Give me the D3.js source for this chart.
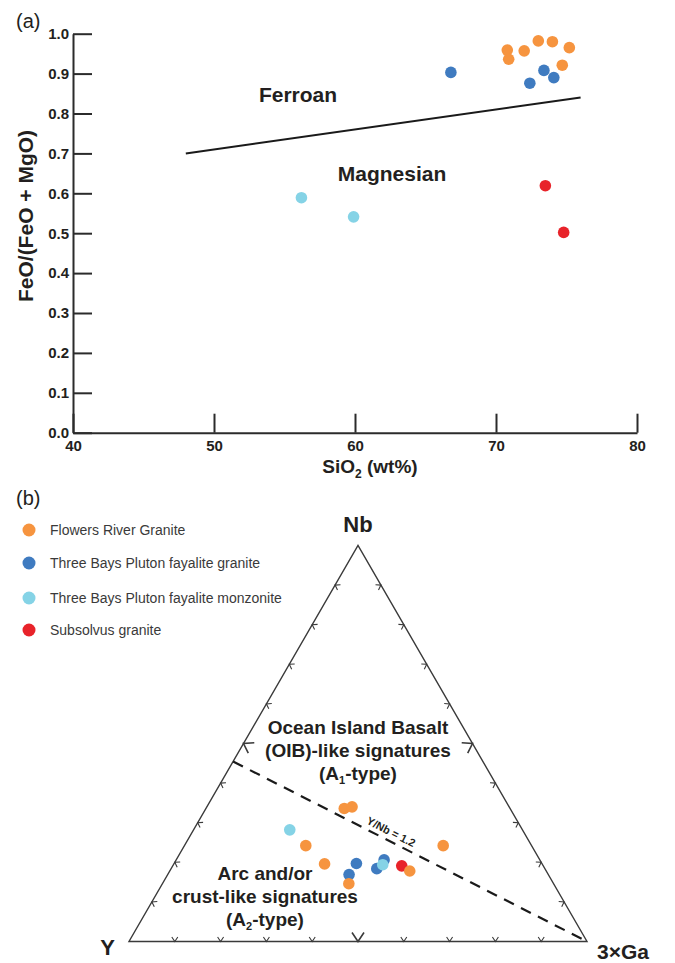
<!DOCTYPE html>
<html>
<head>
<meta charset="utf-8">
<script src="https://cdn.jsdelivr.net/npm/d3@7.9.0/dist/d3.min.js"></script>
<style>
  html, body { margin: 0; padding: 0; background: #fff; }
  svg text { font-family: "Liberation Sans", Arial, Helvetica, sans-serif; fill: #231f20; }
</style>
</head>
<body>
<div id="viz"></div>
<script>
// Series names and colours (shared by both panels)
const seriesNames = [
  "Flowers River Granite",
  "Three Bays Pluton fayalite granite",
  "Three Bays Pluton fayalite monzonite",
  "Subsolvus granite"
];
const seriesColors = ["#f6943f", "#3f7bc0", "#85d3e6", "#e8232a"];

// Panel (a): SiO2 (wt%) vs FeO/(FeO+MgO)
const flowersSiO2 = [70.8, 70.9, 72.0, 73.0, 74.0, 75.2, 74.7];
const flowersFe   = [0.959, 0.936, 0.957, 0.982, 0.980, 0.965, 0.921];
const graniteSiO2 = [66.8, 72.4, 73.4, 74.1];
const graniteFe   = [0.903, 0.876, 0.908, 0.890];
const monzSiO2    = [56.2, 59.9];
const monzFe      = [0.589, 0.541];
const subsSiO2    = [73.5, 74.8];
const subsFe      = [0.619, 0.502];

const xTicks = [40, 50, 60, 70, 80];
const yTicks = [0.0, 0.1, 0.2, 0.3, 0.4, 0.5, 0.6, 0.7, 0.8, 0.9, 1.0];
// Ferroan / magnesian boundary
const boundarySiO2 = [48, 76];
const boundaryFe   = [0.70, 0.84];

// Panel (b): ternary Nb - Y - 3xGa (fractions, Y = 1 - Nb - Ga)
const flowersNb = [0.336, 0.340, 0.242, 0.196, 0.146, 0.178, 0.242];
const flowersGa = [0.302, 0.317, 0.265, 0.329, 0.407, 0.524, 0.565];
const graniteNb = [0.197, 0.169, 0.206, 0.184];
const graniteGa = [0.398, 0.396, 0.454, 0.449];
const monzNb    = [0.282, 0.194];
const monzGa    = [0.210, 0.457];
const subsNb    = [0.191];
const subsGa    = [0.500];
const edgeTicks = [0.1, 0.2, 0.3, 0.4, 0.5, 0.6, 0.7, 0.8, 0.9];
const yNbRatio = 1.2;

const svg = d3.select("#viz").append("svg")
  .attr("width", 675).attr("height", 963);

const ink = "#2b2b2b";

// ---------- panel (a) ----------
const x = d3.scaleLinear().domain([40, 80]).range([73, 637]);
const y = d3.scaleLinear().domain([0, 1]).range([432.7, 33.7]);

svg.append("text").attr("x", 16).attr("y", 28)
  .style("font-size", "20px").text("(a)");

const gx = svg.append("g")
  .attr("transform", "translate(0," + y(0) + ")")
  .call(d3.axisBottom(x).tickValues(xTicks).tickSize(-19).tickSizeOuter(0).tickPadding(8));
const gy = svg.append("g")
  .attr("transform", "translate(" + x(40) + ",0)")
  .call(d3.axisLeft(y).tickValues(yTicks).tickFormat(d3.format(".1f")).tickSize(-19).tickSizeOuter(0).tickPadding(4));

[gx, gy].forEach(g => {
  g.selectAll("path, line").attr("stroke", ink).attr("stroke-width", 2);
  g.selectAll("text")
    .style("font-size", "15px").style("font-weight", "bold")
    .style("font-family", "'Liberation Sans', Arial, sans-serif")
    .attr("fill", "#2a2a2a");
});

svg.append("text")
  .attr("transform", "translate(33,216) rotate(-90)")
  .attr("text-anchor", "middle")
  .style("font-size", "21px").style("font-weight", "bold")
  .text("FeO/(FeO + MgO)");

const xl = svg.append("text")
  .attr("x", 370).attr("y", 473).attr("text-anchor", "middle")
  .style("font-size", "19px").style("font-weight", "bold");
xl.append("tspan").text("SiO");
xl.append("tspan").attr("dy", 5).style("font-size", "12px").text("2");
xl.append("tspan").attr("dy", -5).text(" (wt%)");

svg.append("path")
  .datum(d3.zip(boundarySiO2, boundaryFe))
  .attr("fill", "none").attr("stroke", "#1a1a1a").attr("stroke-width", 2)
  .attr("d", d3.line().x(d => x(d[0])).y(d => y(d[1])));

svg.append("text").attr("x", 298).attr("y", 102).attr("text-anchor", "middle")
  .style("font-size", "21px").style("font-weight", "bold").text("Ferroan");
svg.append("text").attr("x", 392).attr("y", 181).attr("text-anchor", "middle")
  .style("font-size", "21px").style("font-weight", "bold").text("Magnesian");

const scatterSets = [
  [graniteSiO2, graniteFe, 1],
  [subsSiO2, subsFe, 3],
  [flowersSiO2, flowersFe, 0],
  [monzSiO2, monzFe, 2]
];
scatterSets.forEach(([xs, ys, k]) => {
  svg.append("g").selectAll("circle")
    .data(d3.zip(xs, ys))
    .join("circle")
    .attr("cx", d => x(d[0]))
    .attr("cy", d => y(d[1]))
    .attr("r", 5.8)
    .attr("fill", seriesColors[k]);
});

// ---------- panel (b) ----------
svg.append("text").attr("x", 16).attr("y", 505)
  .style("font-size", "20px").text("(b)");

const legendY = [530, 563, 598, 630];
const legend = svg.append("g").selectAll("g")
  .data(seriesNames)
  .join("g")
  .attr("transform", (d, i) => "translate(0," + legendY[i] + ")");
legend.append("circle").attr("cx", 29).attr("cy", 0).attr("r", 6.5)
  .attr("fill", (d, i) => seriesColors[i]);
legend.append("text").attr("x", 50).attr("y", 5)
  .style("font-size", "14px").style("fill", "#3a3a3a")
  .text(d => d);

// ternary scales: horizontal position by (Ga + Nb/2), vertical by Nb
const tx = d3.scaleLinear().domain([0, 1]).range([129, 587]);
const ty = d3.scaleLinear().domain([0, 1]).range([941.5, 545.5]);
const tern = (nb, ga) => [tx(ga + nb / 2), ty(nb)];

const cY = tern(0, 0), cGa = tern(0, 1), cNb = tern(1, 0);
svg.append("path")
  .attr("d", d3.line()([cY, cGa, cNb, cY]) + "Z")
  .attr("fill", "none").attr("stroke", "#3a3a3a").attr("stroke-width", 1.4);

// chevron tick marks along each edge, pointing outward
const edges = [
  { from: cY, to: cGa },   // base
  { from: cGa, to: cNb },  // right edge
  { from: cNb, to: cY }    // left edge
];
const centroid = [(cY[0] + cGa[0] + cNb[0]) / 3, (cY[1] + cGa[1] + cNb[1]) / 3];
const tickG = svg.append("g").attr("fill", "none").attr("stroke", "#3a3a3a");
edges.forEach(e => {
  const dx = e.to[0] - e.from[0], dy = e.to[1] - e.from[1];
  const len = Math.hypot(dx, dy);
  const t = [dx / len, dy / len];
  edgeTicks.forEach(f => {
    const p = [e.from[0] + dx * f, e.from[1] + dy * f];
    // inward direction
    let n = [-t[1], t[0]];
    if ((centroid[0] - p[0]) * n[0] + (centroid[1] - p[1]) * n[1] < 0) n = [-n[0], -n[1]];
    const big = Math.abs(f - 0.5) < 1e-6;
    const h = big ? 9 : 4.5, w = big ? 6 : 3;
    const a1 = [p[0] + n[0] * h + t[0] * w, p[1] + n[1] * h + t[1] * w];
    const a2 = [p[0] + n[0] * h - t[0] * w, p[1] + n[1] * h - t[1] * w];
    tickG.append("path").attr("d", d3.line()([a1, p, a2]))
      .attr("stroke-width", big ? 1.6 : 1.1);
  });
});

// Y/Nb = 1.2 line: from left edge (Ga = 0) to the 3xGa corner
const nbOnEdge = 1 / (1 + yNbRatio);
const dashStart = tern(nbOnEdge, 0);
svg.append("path")
  .attr("d", d3.line()([dashStart, cGa]))
  .attr("stroke", "#1a1a1a").attr("stroke-width", 2.2)
  .attr("stroke-dasharray", "11,8").attr("fill", "none");

const ang = Math.atan2(cGa[1] - dashStart[1], cGa[0] - dashStart[0]) * 180 / Math.PI;
const lp = [dashStart[0] + (cGa[0] - dashStart[0]) * 0.435, dashStart[1] + (cGa[1] - dashStart[1]) * 0.435];
svg.append("text")
  .attr("transform", "translate(" + lp[0] + "," + lp[1] + ") rotate(" + ang + ") translate(0,-5)")
  .attr("text-anchor", "middle")
  .style("font-size", "11px").style("font-weight", "bold")
  .text("Y/Nb = 1.2");

// vertex labels
svg.append("text").attr("x", cNb[0]).attr("y", 532).attr("text-anchor", "middle")
  .style("font-size", "22px").style("font-weight", "bold").text("Nb");
svg.append("text").attr("x", 107.5).attr("y", 955).attr("text-anchor", "middle")
  .style("font-size", "22px").style("font-weight", "bold").text("Y");
svg.append("text").attr("x", 597).attr("y", 959)
  .style("font-size", "21px").style("font-weight", "bold").text("3\u00D7Ga");

// field labels
function fieldLabel(cx, baselines, lines, sub) {
  lines.forEach((s, i) => {
    const t = svg.append("text").attr("x", cx).attr("y", baselines[i])
      .attr("text-anchor", "middle")
      .style("font-size", "19px").style("font-weight", "bold");
    if (i === lines.length - 1) {
      t.append("tspan").text("(A");
      t.append("tspan").attr("dy", 4).style("font-size", "11px").text(sub);
      t.append("tspan").attr("dy", -4).text("-type)");
    } else {
      t.text(s);
    }
  });
}
fieldLabel(358, [734, 757, 780], ["Ocean Island Basalt", "(OIB)-like signatures", "(A-type)"], "1");
fieldLabel(265, [880, 903, 926], ["Arc and/or", "crust-like signatures", "(A-type)"], "2");

// ternary points
const ternSets = [
  [graniteNb, graniteGa, 1],
  [subsNb, subsGa, 3],
  [flowersNb, flowersGa, 0],
  [monzNb, monzGa, 2]
];
ternSets.forEach(([nbs, gas, k]) => {
  svg.append("g").selectAll("circle")
    .data(d3.zip(nbs, gas))
    .join("circle")
    .attr("cx", d => tern(d[0], d[1])[0])
    .attr("cy", d => tern(d[0], d[1])[1])
    .attr("r", 5.8)
    .attr("fill", seriesColors[k]);
});
</script>
</body>
</html>
